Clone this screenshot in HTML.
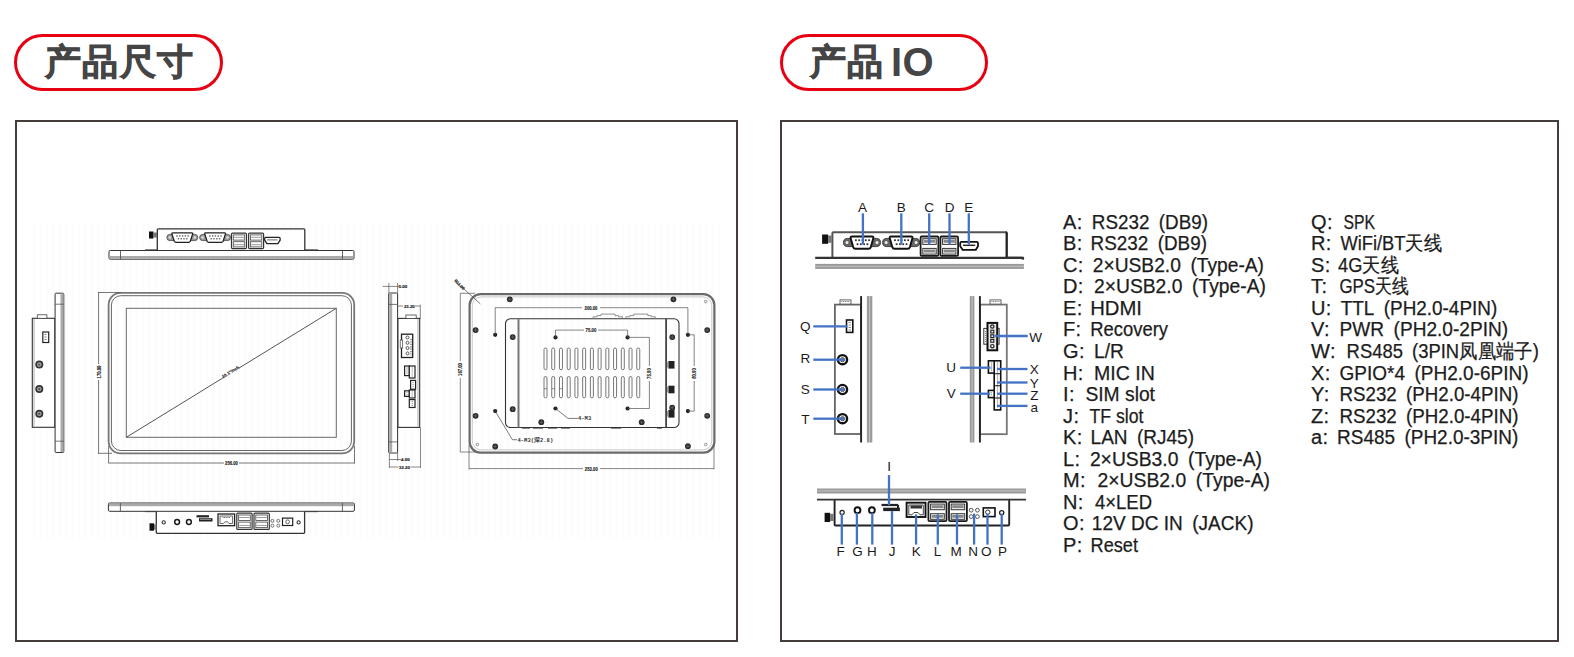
<!DOCTYPE html>
<html><head><meta charset="utf-8">
<style>
html,body{margin:0;padding:0;background:#fff;}
body{width:1574px;height:657px;position:relative;overflow:hidden;font-family:"Liberation Sans",sans-serif;}
.pill{position:absolute;box-sizing:border-box;border:3px solid #e60012;border-radius:30px;}
.ptxt{position:absolute;font-family:"Liberation Sans",sans-serif;font-weight:bold;font-size:35.5px;letter-spacing:1.6px;color:#454545;-webkit-text-stroke:0.8px #454545;white-space:nowrap;line-height:1;}
.box{position:absolute;box-sizing:border-box;border:2px solid #463c3c;}
svg{position:absolute;left:0;top:0;}
</style></head><body>
<div class="pill" style="left:14px;top:34px;width:209px;height:57px"></div>
<div class="ptxt" style="left:44.5px;top:45px">产品尺寸</div>
<div class="pill" style="left:780px;top:34px;width:208px;height:57px"></div>
<div class="ptxt" style="left:809.5px;top:45px">产品</div><div class="ptxt" style="left:891px;top:42px;font-size:40px;-webkit-text-stroke:0px #454545;letter-spacing:0.5px">IO</div>
<div class="box" style="left:15px;top:120px;width:723px;height:522px"></div>
<div class="box" style="left:780px;top:120px;width:779px;height:522px"></div>
<svg width="1574" height="657" viewBox="0 0 1574 657">
<!--GRID--><g stroke="#fcfcfc" stroke-width="2.6"><line x1="34.3" y1="224" x2="34.3" y2="538"/><line x1="40.7" y1="224" x2="40.7" y2="538"/><line x1="47.1" y1="224" x2="47.1" y2="538"/><line x1="53.5" y1="224" x2="53.5" y2="538"/><line x1="59.9" y1="224" x2="59.9" y2="538"/><line x1="66.3" y1="224" x2="66.3" y2="538"/><line x1="72.7" y1="224" x2="72.7" y2="538"/><line x1="79.1" y1="224" x2="79.1" y2="538"/><line x1="85.5" y1="224" x2="85.5" y2="538"/><line x1="91.9" y1="224" x2="91.9" y2="538"/><line x1="98.3" y1="224" x2="98.3" y2="538"/><line x1="104.7" y1="224" x2="104.7" y2="538"/><line x1="111.1" y1="224" x2="111.1" y2="538"/><line x1="117.5" y1="224" x2="117.5" y2="538"/><line x1="123.9" y1="224" x2="123.9" y2="538"/><line x1="130.3" y1="224" x2="130.3" y2="538"/><line x1="136.7" y1="224" x2="136.7" y2="538"/><line x1="143.1" y1="224" x2="143.1" y2="538"/><line x1="149.5" y1="224" x2="149.5" y2="538"/><line x1="155.9" y1="224" x2="155.9" y2="538"/><line x1="162.3" y1="224" x2="162.3" y2="538"/><line x1="168.7" y1="224" x2="168.7" y2="538"/><line x1="175.1" y1="224" x2="175.1" y2="538"/><line x1="181.5" y1="224" x2="181.5" y2="538"/><line x1="187.9" y1="224" x2="187.9" y2="538"/><line x1="194.3" y1="224" x2="194.3" y2="538"/><line x1="200.7" y1="224" x2="200.7" y2="538"/><line x1="207.1" y1="224" x2="207.1" y2="538"/><line x1="213.5" y1="224" x2="213.5" y2="538"/><line x1="219.9" y1="224" x2="219.9" y2="538"/><line x1="226.3" y1="224" x2="226.3" y2="538"/><line x1="232.7" y1="224" x2="232.7" y2="538"/><line x1="239.1" y1="224" x2="239.1" y2="538"/><line x1="245.5" y1="224" x2="245.5" y2="538"/><line x1="251.9" y1="224" x2="251.9" y2="538"/><line x1="258.3" y1="224" x2="258.3" y2="538"/><line x1="264.7" y1="224" x2="264.7" y2="538"/><line x1="271.1" y1="224" x2="271.1" y2="538"/><line x1="277.5" y1="224" x2="277.5" y2="538"/><line x1="283.9" y1="224" x2="283.9" y2="538"/><line x1="290.3" y1="224" x2="290.3" y2="538"/><line x1="296.7" y1="224" x2="296.7" y2="538"/><line x1="303.1" y1="224" x2="303.1" y2="538"/><line x1="309.5" y1="224" x2="309.5" y2="538"/><line x1="315.9" y1="224" x2="315.9" y2="538"/><line x1="322.3" y1="224" x2="322.3" y2="538"/><line x1="328.7" y1="224" x2="328.7" y2="538"/><line x1="335.1" y1="224" x2="335.1" y2="538"/><line x1="341.5" y1="224" x2="341.5" y2="538"/><line x1="347.9" y1="224" x2="347.9" y2="538"/><line x1="354.3" y1="224" x2="354.3" y2="538"/><line x1="360.7" y1="224" x2="360.7" y2="538"/><line x1="367.1" y1="224" x2="367.1" y2="538"/><line x1="373.5" y1="224" x2="373.5" y2="538"/><line x1="379.9" y1="224" x2="379.9" y2="538"/><line x1="386.3" y1="224" x2="386.3" y2="538"/><line x1="392.7" y1="224" x2="392.7" y2="538"/><line x1="399.1" y1="224" x2="399.1" y2="538"/><line x1="405.5" y1="224" x2="405.5" y2="538"/><line x1="411.9" y1="224" x2="411.9" y2="538"/><line x1="418.3" y1="224" x2="418.3" y2="538"/><line x1="424.7" y1="224" x2="424.7" y2="538"/><line x1="431.1" y1="224" x2="431.1" y2="538"/><line x1="437.5" y1="224" x2="437.5" y2="538"/><line x1="443.9" y1="224" x2="443.9" y2="538"/><line x1="450.3" y1="224" x2="450.3" y2="538"/><line x1="456.7" y1="224" x2="456.7" y2="538"/><line x1="463.1" y1="224" x2="463.1" y2="538"/><line x1="469.5" y1="224" x2="469.5" y2="538"/><line x1="475.9" y1="224" x2="475.9" y2="538"/><line x1="482.3" y1="224" x2="482.3" y2="538"/><line x1="488.7" y1="224" x2="488.7" y2="538"/><line x1="495.1" y1="224" x2="495.1" y2="538"/><line x1="501.5" y1="224" x2="501.5" y2="538"/><line x1="507.9" y1="224" x2="507.9" y2="538"/><line x1="514.3" y1="224" x2="514.3" y2="538"/><line x1="520.7" y1="224" x2="520.7" y2="538"/><line x1="527.1" y1="224" x2="527.1" y2="538"/><line x1="533.5" y1="224" x2="533.5" y2="538"/><line x1="539.9" y1="224" x2="539.9" y2="538"/><line x1="546.3" y1="224" x2="546.3" y2="538"/><line x1="552.7" y1="224" x2="552.7" y2="538"/><line x1="559.1" y1="224" x2="559.1" y2="538"/><line x1="565.5" y1="224" x2="565.5" y2="538"/><line x1="571.9" y1="224" x2="571.9" y2="538"/><line x1="578.3" y1="224" x2="578.3" y2="538"/><line x1="584.7" y1="224" x2="584.7" y2="538"/><line x1="591.1" y1="224" x2="591.1" y2="538"/><line x1="597.5" y1="224" x2="597.5" y2="538"/><line x1="603.9" y1="224" x2="603.9" y2="538"/><line x1="610.3" y1="224" x2="610.3" y2="538"/><line x1="616.7" y1="224" x2="616.7" y2="538"/><line x1="623.1" y1="224" x2="623.1" y2="538"/><line x1="629.5" y1="224" x2="629.5" y2="538"/><line x1="635.9" y1="224" x2="635.9" y2="538"/><line x1="642.3" y1="224" x2="642.3" y2="538"/><line x1="648.7" y1="224" x2="648.7" y2="538"/><line x1="655.1" y1="224" x2="655.1" y2="538"/><line x1="661.5" y1="224" x2="661.5" y2="538"/><line x1="667.9" y1="224" x2="667.9" y2="538"/><line x1="674.3" y1="224" x2="674.3" y2="538"/><line x1="680.7" y1="224" x2="680.7" y2="538"/><line x1="687.1" y1="224" x2="687.1" y2="538"/><line x1="693.5" y1="224" x2="693.5" y2="538"/><line x1="699.9" y1="224" x2="699.9" y2="538"/><line x1="706.3" y1="224" x2="706.3" y2="538"/><line x1="712.7" y1="224" x2="712.7" y2="538"/><line x1="719.1" y1="224" x2="719.1" y2="538"/></g>
<g id="ltop"><line x1="145" y1="250" x2="157" y2="250" stroke="#333" stroke-width="1.2"/><line x1="305" y1="250" x2="318" y2="250" stroke="#333" stroke-width="1.2"/><path d="M157.3,250.5 L157.3,229.8 Q157.3,228.8 158.3,228.8 L303.8,228.8 Q304.8,228.8 304.8,229.8 L304.8,250.5" fill="#fff" stroke="#333" stroke-width="1.3"/><rect x="109" y="250.5" width="245" height="8.699999999999989" rx="1.2" fill="#fff" stroke="#333" stroke-width="1"/><rect x="109.5" y="256.0" width="244" height="2.6" fill="#aaa"/><line x1="120.5" y1="250.5" x2="120.5" y2="259.2" stroke="#555" stroke-width="0.9"/><line x1="342.5" y1="250.5" x2="342.5" y2="259.2" stroke="#555" stroke-width="0.9"/><rect x="149" y="231.5" width="4.5" height="7" fill="#111"/><rect x="153.5" y="232.5" width="3.5" height="5" fill="#777"/><rect x="166.8" y="234.4" width="31" height="6.2" rx="3.1" fill="#999" stroke="#444" stroke-width="0.8"/><circle cx="169.8" cy="237.5" r="1.3" fill="#ddd"/><circle cx="194.8" cy="237.5" r="1.3" fill="#ddd"/><path d="M172.8,232.9 L191.8,232.9 Q193.10000000000002,232.9 192.60000000000002,234.1 L190.3,241.3 Q189.8,242.3 188.70000000000002,242.3 L175.9,242.3 Q174.8,242.3 174.3,241.3 L172.0,234.1 Q171.5,232.9 172.8,232.9 Z" fill="#fff" stroke="#222" stroke-width="1.3"/><rect x="176.3" y="235.3" width="1.4" height="1.3" fill="#555"/><rect x="179.1" y="235.3" width="1.4" height="1.3" fill="#555"/><rect x="181.9" y="235.3" width="1.4" height="1.3" fill="#555"/><rect x="184.7" y="235.3" width="1.4" height="1.3" fill="#555"/><rect x="187.5" y="235.3" width="1.4" height="1.3" fill="#555"/><rect x="177.7" y="238.1" width="1.4" height="1.3" fill="#555"/><rect x="180.5" y="238.1" width="1.4" height="1.3" fill="#555"/><rect x="183.3" y="238.1" width="1.4" height="1.3" fill="#555"/><rect x="186.1" y="238.1" width="1.4" height="1.3" fill="#555"/><rect x="199.6" y="234.4" width="31" height="6.2" rx="3.1" fill="#999" stroke="#444" stroke-width="0.8"/><circle cx="202.6" cy="237.5" r="1.3" fill="#ddd"/><circle cx="227.6" cy="237.5" r="1.3" fill="#ddd"/><path d="M205.6,232.9 L224.6,232.9 Q225.9,232.9 225.4,234.1 L223.1,241.3 Q222.6,242.3 221.5,242.3 L208.7,242.3 Q207.6,242.3 207.1,241.3 L204.79999999999998,234.1 Q204.29999999999998,232.9 205.6,232.9 Z" fill="#fff" stroke="#222" stroke-width="1.3"/><rect x="209.1" y="235.3" width="1.4" height="1.3" fill="#555"/><rect x="211.9" y="235.3" width="1.4" height="1.3" fill="#555"/><rect x="214.7" y="235.3" width="1.4" height="1.3" fill="#555"/><rect x="217.5" y="235.3" width="1.4" height="1.3" fill="#555"/><rect x="220.3" y="235.3" width="1.4" height="1.3" fill="#555"/><rect x="210.5" y="238.1" width="1.4" height="1.3" fill="#555"/><rect x="213.3" y="238.1" width="1.4" height="1.3" fill="#555"/><rect x="216.1" y="238.1" width="1.4" height="1.3" fill="#555"/><rect x="218.9" y="238.1" width="1.4" height="1.3" fill="#555"/><rect x="231.5" y="233.1" width="15" height="15.5" rx="1" fill="#fff" stroke="#333" stroke-width="1.2"/><rect x="233.3" y="234.9" width="11.4" height="5.2" fill="#fff" stroke="#555" stroke-width="0.9"/><rect x="233.3" y="241.7" width="11.4" height="5.2" fill="#fff" stroke="#555" stroke-width="0.9"/><line x1="234.0" y1="237.3" x2="244.0" y2="237.3" stroke="#999" stroke-width="1"/><line x1="234.0" y1="244.7" x2="244.0" y2="244.7" stroke="#999" stroke-width="1"/><rect x="248.6" y="233.1" width="15" height="15.5" rx="1" fill="#fff" stroke="#333" stroke-width="1.2"/><rect x="250.4" y="234.9" width="11.4" height="5.2" fill="#fff" stroke="#555" stroke-width="0.9"/><rect x="250.4" y="241.7" width="11.4" height="5.2" fill="#fff" stroke="#555" stroke-width="0.9"/><line x1="251.1" y1="237.3" x2="261.1" y2="237.3" stroke="#999" stroke-width="1"/><line x1="251.1" y1="244.7" x2="261.1" y2="244.7" stroke="#999" stroke-width="1"/><path d="M265.7,237.3 L279.09999999999997,237.3 Q280.09999999999997,237.3 280.09999999999997,238.3 L280.09999999999997,240.2 L277.9,243.70000000000002 L266.9,243.70000000000002 L264.7,240.2 L264.7,238.3 Q264.7,237.3 265.7,237.3 Z" fill="#fff" stroke="#222" stroke-width="1.3"/><line x1="267.2" y1="239.9" x2="277.59999999999997" y2="239.9" stroke="#666" stroke-width="1"/></g>
<g id="lfront"><rect x="108.6" y="292.9" width="245.6" height="160.4" rx="12" fill="none" stroke="#777" stroke-width="1.8"/><rect x="111.4" y="295.7" width="240" height="154.8" rx="9.5" fill="none" stroke="#666" stroke-width="1"/><rect x="126.3" y="308.3" width="210" height="129" fill="none" stroke="#6a6a6a" stroke-width="1"/><line x1="126.3" y1="437.3" x2="336.3" y2="308.3" stroke="#555" stroke-width="1"/><rect x="222" y="369" width="17" height="5" fill="#fff" transform="rotate(-31.6 230.5 371.5)"/><text x="220.82" y="373.31" font-family="Liberation Sans, sans-serif" font-size="4.2" fill="#222" stroke="#222" stroke-width="0.15" textLength="19.35" lengthAdjust="spacingAndGlyphs" transform="rotate(-31.6 230.5 371.8)" font-weight="bold">10.1"inch</text><path d="M97.9,292.5 H121 M98.6,292.5 V453.3 M97.9,453.3 H112" stroke="#555" stroke-width="0.8" fill="none"/><rect x="96" y="364" width="5.5" height="16" fill="#fff"/><text x="92.15" y="373.94" font-family="Liberation Sans, sans-serif" font-size="5.4" fill="#222" stroke="#222" stroke-width="0.15" textLength="12.90" lengthAdjust="spacingAndGlyphs" transform="rotate(-90 98.6 372)" font-weight="bold">170.00</text><path d="M108.6,446 V463.3 M354.5,446 V463.6 M108.6,463 H354.5" stroke="#555" stroke-width="0.8" fill="none"/><rect x="224" y="460" width="15" height="6" fill="#fff"/><text x="225.05" y="465.14" font-family="Liberation Sans, sans-serif" font-size="5.4" fill="#222" stroke="#222" stroke-width="0.15" textLength="12.90" lengthAdjust="spacingAndGlyphs" font-weight="bold">256.00</text></g>
<g id="lside"><rect x="32.3" y="318.3" width="22.5" height="109" fill="#fff" stroke="#333" stroke-width="1.1"/><line x1="34" y1="319" x2="34" y2="427" stroke="#bbb" stroke-width="1.2"/><rect x="37.3" y="314.8" width="9.6" height="3.5" fill="#fff" stroke="#444" stroke-width="0.8"/><rect x="42.8" y="332" width="5.9" height="10.5" fill="#fff" stroke="#222" stroke-width="1.2"/><path d="M44.5,334.5 h2 M44.5,337 h2 M44.5,339.5 h2" stroke="#666" stroke-width="0.8"/><circle cx="39.3" cy="364.6" r="4" fill="#333"/><circle cx="39.3" cy="364.6" r="2.3" fill="#aaa"/><circle cx="39.3" cy="364.6" r="1.2" fill="#555"/><circle cx="39.3" cy="389" r="4" fill="#333"/><circle cx="39.3" cy="389" r="2.3" fill="#aaa"/><circle cx="39.3" cy="389" r="1.2" fill="#555"/><circle cx="39.3" cy="413.7" r="4" fill="#333"/><circle cx="39.3" cy="413.7" r="2.3" fill="#aaa"/><circle cx="39.3" cy="413.7" r="1.2" fill="#555"/><rect x="55.1" y="293.2" width="8.7" height="159.3" rx="1" fill="#fff" stroke="#333" stroke-width="1"/><rect x="60.5" y="293.6" width="3" height="158.5" fill="#aaa"/><path d="M55.1,304.2 H63.8 M55.1,441.2 H63.8" stroke="#555" stroke-width="0.8"/></g>
<g id="rside"><rect x="397.9" y="318.4" width="21.8" height="109" fill="#fff" stroke="#333" stroke-width="1.1"/><line x1="418" y1="319" x2="418" y2="427" stroke="#bbb" stroke-width="1.2"/><rect x="405.9" y="315" width="10.3" height="3.4" fill="#fff" stroke="#444" stroke-width="0.8"/><rect x="401.5" y="334.2" width="11.2" height="23.3" fill="#fff" stroke="#222" stroke-width="1.3"/><rect x="400.2" y="340" width="2.5" height="8" fill="#fff" stroke="#444" stroke-width="0.7"/><circle cx="407.5" cy="337.5" r="1.5" fill="none" stroke="#333" stroke-width="0.8"/><circle cx="407.5" cy="342.8" r="1.5" fill="none" stroke="#333" stroke-width="0.8"/><circle cx="407.5" cy="348.1" r="1.5" fill="none" stroke="#333" stroke-width="0.8"/><circle cx="407.5" cy="353.4" r="1.5" fill="none" stroke="#333" stroke-width="0.8"/><path d="M411,339 v17" stroke="#555" stroke-width="1.2" stroke-dasharray="1.2,1.2"/><rect x="404.6" y="366" width="4.7" height="9.6" fill="#fff" stroke="#222" stroke-width="1.2"/><path d="M407.0,367.5 v6.6" stroke="#666" stroke-width="0.9" stroke-dasharray="1,1"/><rect x="409.3" y="366" width="5.7" height="12" fill="#fff" stroke="#222" stroke-width="1.2"/><path d="M412.2,367.5 v9.0" stroke="#666" stroke-width="0.9" stroke-dasharray="1,1"/><rect x="410.6" y="380.4" width="5" height="8.8" fill="#fff" stroke="#222" stroke-width="1.2"/><path d="M413.1,381.9 v5.8" stroke="#666" stroke-width="0.9" stroke-dasharray="1,1"/><rect x="404.6" y="390.8" width="4.7" height="5.6" fill="#fff" stroke="#222" stroke-width="1.2"/><path d="M407.0,392.3 v2.6" stroke="#666" stroke-width="0.9" stroke-dasharray="1,1"/><rect x="409.3" y="390" width="5.7" height="8" fill="#fff" stroke="#222" stroke-width="1.2"/><path d="M412.2,391.5 v5.0" stroke="#666" stroke-width="0.9" stroke-dasharray="1,1"/><rect x="409.3" y="399.6" width="5.7" height="7.9" fill="#fff" stroke="#222" stroke-width="1.2"/><path d="M412.2,401.1 v4.9" stroke="#666" stroke-width="0.9" stroke-dasharray="1,1"/><rect x="388.7" y="293" width="8.9" height="160" rx="1" fill="#fff" stroke="#333" stroke-width="1"/><rect x="389.2" y="293.5" width="3" height="159" fill="#aaa"/><path d="M388.7,304.4 H397.6 M388.7,441.9 H397.6" stroke="#555" stroke-width="0.8"/><path d="M382.5,286.4 H399 M388.9,283 V293 M397.6,283 V293" stroke="#555" stroke-width="0.7" fill="none"/><text x="398.70" y="287.98" font-family="Liberation Sans, sans-serif" font-size="4.4" fill="#222" stroke="#222" stroke-width="0.15" textLength="8.60" lengthAdjust="spacingAndGlyphs" font-weight="bold">5.00</text><path d="M397.6,306 H420.3 M420.3,304.7 V319" stroke="#555" stroke-width="0.7" fill="none"/><rect x="403" y="303.5" width="12" height="5" fill="#fff"/><text x="403.93" y="307.58" font-family="Liberation Sans, sans-serif" font-size="4.4" fill="#222" stroke="#222" stroke-width="0.15" textLength="10.75" lengthAdjust="spacingAndGlyphs" font-weight="bold">23.20</text><path d="M389.4,453 V468 M397.6,453 V461 M420.5,427.5 V468 M389.4,459.5 H401 M389.4,467 H420.5" stroke="#555" stroke-width="0.7" fill="none"/><text x="401.10" y="461.08" font-family="Liberation Sans, sans-serif" font-size="4.4" fill="#222" stroke="#222" stroke-width="0.15" textLength="8.60" lengthAdjust="spacingAndGlyphs" font-weight="bold">4.00</text><rect x="398.5" y="464.5" width="12" height="5" fill="#fff"/><text x="399.12" y="468.58" font-family="Liberation Sans, sans-serif" font-size="4.4" fill="#222" stroke="#222" stroke-width="0.15" textLength="10.75" lengthAdjust="spacingAndGlyphs" font-weight="bold">32.20</text></g>
<g id="back"><rect x="469.6" y="294.2" width="244.8" height="158.4" rx="11" fill="none" stroke="#6a6a6a" stroke-width="2.2"/><rect x="472.3" y="296.9" width="239.5" height="153" rx="9" fill="none" stroke="#bbb" stroke-width="0.8"/><rect x="505.5" y="318.7" width="173.5" height="108.8" rx="5" fill="none" stroke="#333" stroke-width="1.1"/><line x1="518.5" y1="318.7" x2="518.5" y2="427.5" stroke="#777" stroke-width="2"/><line x1="666.1" y1="318.7" x2="666.1" y2="427.5" stroke="#444" stroke-width="1.8"/><path d="M593,319 v-2.2 h4 v-1.2 h4 v-1.5 h14 v1.5 h3.5 v1.2 h4 v2.2" fill="none" stroke="#777" stroke-width="0.8"/><path d="M625.8,319 v-2.2 h4 v-1.2 h4 v-1.5 h14 v1.5 h3.5 v1.2 h4 v2.2" fill="none" stroke="#777" stroke-width="0.8"/><path d="M522,428.5 h8 M533,428.5 h10 M548,428.5 h9 M561,428.5 h9 M611,428.5 h10 M657,428.5 h5" stroke="#888" stroke-width="1"/><rect x="544.00" y="348" width="3" height="21.7" rx="1.5" fill="none" stroke="#555" stroke-width="0.8"/><rect x="551.73" y="348" width="3" height="21.7" rx="1.5" fill="none" stroke="#555" stroke-width="0.8"/><rect x="559.46" y="348" width="3" height="21.7" rx="1.5" fill="none" stroke="#555" stroke-width="0.8"/><rect x="567.19" y="348" width="3" height="21.7" rx="1.5" fill="none" stroke="#555" stroke-width="0.8"/><rect x="574.92" y="348" width="3" height="21.7" rx="1.5" fill="none" stroke="#555" stroke-width="0.8"/><rect x="582.65" y="348" width="3" height="21.7" rx="1.5" fill="none" stroke="#555" stroke-width="0.8"/><rect x="590.38" y="348" width="3" height="21.7" rx="1.5" fill="none" stroke="#555" stroke-width="0.8"/><rect x="598.11" y="348" width="3" height="21.7" rx="1.5" fill="none" stroke="#555" stroke-width="0.8"/><rect x="605.84" y="348" width="3" height="21.7" rx="1.5" fill="none" stroke="#555" stroke-width="0.8"/><rect x="613.57" y="348" width="3" height="21.7" rx="1.5" fill="none" stroke="#555" stroke-width="0.8"/><rect x="621.30" y="348" width="3" height="21.7" rx="1.5" fill="none" stroke="#555" stroke-width="0.8"/><rect x="629.03" y="348" width="3" height="21.7" rx="1.5" fill="none" stroke="#555" stroke-width="0.8"/><rect x="636.76" y="348" width="3" height="21.7" rx="1.5" fill="none" stroke="#555" stroke-width="0.8"/><rect x="544.00" y="376.5" width="3" height="21.3" rx="1.5" fill="none" stroke="#555" stroke-width="0.8"/><rect x="551.73" y="376.5" width="3" height="21.3" rx="1.5" fill="none" stroke="#555" stroke-width="0.8"/><rect x="559.46" y="376.5" width="3" height="21.3" rx="1.5" fill="none" stroke="#555" stroke-width="0.8"/><rect x="567.19" y="376.5" width="3" height="21.3" rx="1.5" fill="none" stroke="#555" stroke-width="0.8"/><rect x="574.92" y="376.5" width="3" height="21.3" rx="1.5" fill="none" stroke="#555" stroke-width="0.8"/><rect x="582.65" y="376.5" width="3" height="21.3" rx="1.5" fill="none" stroke="#555" stroke-width="0.8"/><rect x="590.38" y="376.5" width="3" height="21.3" rx="1.5" fill="none" stroke="#555" stroke-width="0.8"/><rect x="598.11" y="376.5" width="3" height="21.3" rx="1.5" fill="none" stroke="#555" stroke-width="0.8"/><rect x="605.84" y="376.5" width="3" height="21.3" rx="1.5" fill="none" stroke="#555" stroke-width="0.8"/><rect x="613.57" y="376.5" width="3" height="21.3" rx="1.5" fill="none" stroke="#555" stroke-width="0.8"/><rect x="621.30" y="376.5" width="3" height="21.3" rx="1.5" fill="none" stroke="#555" stroke-width="0.8"/><rect x="629.03" y="376.5" width="3" height="21.3" rx="1.5" fill="none" stroke="#555" stroke-width="0.8"/><rect x="636.76" y="376.5" width="3" height="21.3" rx="1.5" fill="none" stroke="#555" stroke-width="0.8"/><line x1="544.00" y1="388.7" x2="547.00" y2="388.7" stroke="#555" stroke-width="0.6"/><line x1="551.73" y1="388.7" x2="554.73" y2="388.7" stroke="#555" stroke-width="0.6"/><line x1="559.46" y1="388.7" x2="562.46" y2="388.7" stroke="#555" stroke-width="0.6"/><rect x="668.4" y="361" width="6.1" height="7.6" fill="#222"/><rect x="667.2" y="362" width="1.2" height="5.6" fill="#888"/><rect x="668.4" y="385.7" width="6.1" height="7.6" fill="#222"/><rect x="667.2" y="386.7" width="1.2" height="5.6" fill="#888"/><rect x="668.4" y="410" width="6.1" height="7.6" fill="#222"/><rect x="667.2" y="411" width="1.2" height="5.6" fill="#888"/><circle cx="509.8" cy="299.3" r="2.9" fill="#2a2a2a"/><path d="M507.77000000000004,299.3 H511.83 M509.8,297.27000000000004 V301.33" stroke="#8a8a8a" stroke-width="0.45"/><circle cx="673.4" cy="299.3" r="2.9" fill="#2a2a2a"/><path d="M671.37,299.3 H675.43 M673.4,297.27000000000004 V301.33" stroke="#8a8a8a" stroke-width="0.45"/><circle cx="475.6" cy="330.1" r="2.9" fill="#2a2a2a"/><path d="M473.57000000000005,330.1 H477.63 M475.6,328.07000000000005 V332.13" stroke="#8a8a8a" stroke-width="0.45"/><circle cx="707.2" cy="330.1" r="2.9" fill="#2a2a2a"/><path d="M705.1700000000001,330.1 H709.23 M707.2,328.07000000000005 V332.13" stroke="#8a8a8a" stroke-width="0.45"/><circle cx="512.7" cy="337.1" r="2.9" fill="#2a2a2a"/><path d="M510.6700000000001,337.1 H514.73 M512.7,335.07000000000005 V339.13" stroke="#8a8a8a" stroke-width="0.45"/><circle cx="672.2" cy="337.1" r="2.9" fill="#2a2a2a"/><path d="M670.1700000000001,337.1 H674.23 M672.2,335.07000000000005 V339.13" stroke="#8a8a8a" stroke-width="0.45"/><circle cx="475.6" cy="415.8" r="2.9" fill="#2a2a2a"/><path d="M473.57000000000005,415.8 H477.63 M475.6,413.77000000000004 V417.83" stroke="#8a8a8a" stroke-width="0.45"/><circle cx="707.2" cy="415.8" r="2.9" fill="#2a2a2a"/><path d="M705.1700000000001,415.8 H709.23 M707.2,413.77000000000004 V417.83" stroke="#8a8a8a" stroke-width="0.45"/><circle cx="512.7" cy="409.2" r="2.9" fill="#2a2a2a"/><path d="M510.6700000000001,409.2 H514.73 M512.7,407.17 V411.22999999999996" stroke="#8a8a8a" stroke-width="0.45"/><circle cx="672.2" cy="407.7" r="2.9" fill="#2a2a2a"/><path d="M670.1700000000001,407.7 H674.23 M672.2,405.67 V409.72999999999996" stroke="#8a8a8a" stroke-width="0.45"/><circle cx="541.3" cy="422.2" r="2.9" fill="#2a2a2a"/><path d="M539.27,422.2 H543.3299999999999 M541.3,420.17 V424.22999999999996" stroke="#8a8a8a" stroke-width="0.45"/><circle cx="641.7" cy="422.2" r="2.9" fill="#2a2a2a"/><path d="M639.6700000000001,422.2 H643.73 M641.7,420.17 V424.22999999999996" stroke="#8a8a8a" stroke-width="0.45"/><circle cx="495.2" cy="446.5" r="2.9" fill="#2a2a2a"/><path d="M493.17,446.5 H497.22999999999996 M495.2,444.47 V448.53" stroke="#8a8a8a" stroke-width="0.45"/><circle cx="687.9" cy="446.2" r="2.9" fill="#2a2a2a"/><path d="M685.87,446.2 H689.93 M687.9,444.17 V448.22999999999996" stroke="#8a8a8a" stroke-width="0.45"/><circle cx="705.7" cy="301.6" r="1.3" fill="none" stroke="#555" stroke-width="0.6"/><circle cx="477.4" cy="444.5" r="1.3" fill="none" stroke="#555" stroke-width="0.6"/><circle cx="705.7" cy="444.5" r="1.3" fill="none" stroke="#555" stroke-width="0.6"/><circle cx="495.2" cy="334.8" r="2.1" fill="#222"/><circle cx="687.9" cy="334.8" r="2.1" fill="#222"/><circle cx="495.2" cy="411.1" r="2.1" fill="#222"/><circle cx="687.9" cy="411.1" r="2.1" fill="#222"/><circle cx="555.5" cy="337.4" r="2.1" fill="#222"/><circle cx="627.6" cy="337.4" r="2.1" fill="#222"/><circle cx="555.5" cy="408.5" r="2.1" fill="#222"/><circle cx="627.6" cy="408.5" r="2.1" fill="#222"/><path d="M495.2,334.8 V307.7 H687.9 V334.8" fill="none" stroke="#555" stroke-width="0.7"/><rect x="582" y="305" width="18" height="5.5" fill="#fff"/><text x="584.55" y="309.74" font-family="Liberation Sans, sans-serif" font-size="5.4" fill="#222" stroke="#222" stroke-width="0.15" textLength="12.90" lengthAdjust="spacingAndGlyphs" font-weight="bold">200.00</text><path d="M555.5,337.4 V330.1 H627.6 V337.4" fill="none" stroke="#555" stroke-width="0.7"/><rect x="584" y="327.5" width="14" height="5.5" fill="#fff"/><text x="585.62" y="332.14" font-family="Liberation Sans, sans-serif" font-size="5.4" fill="#222" stroke="#222" stroke-width="0.15" textLength="10.75" lengthAdjust="spacingAndGlyphs" font-weight="bold">75.00</text><path d="M627.6,337.4 H649.4 V408.5 H627.6" fill="none" stroke="#555" stroke-width="0.7"/><rect x="646.6" y="366" width="5.5" height="15" fill="#fff"/><text x="644.02" y="375.44" font-family="Liberation Sans, sans-serif" font-size="5.4" fill="#222" stroke="#222" stroke-width="0.15" textLength="10.75" lengthAdjust="spacingAndGlyphs" transform="rotate(-90 649.4 373.5)" font-weight="bold">75.00</text><path d="M687.9,334.8 H694.2 V411.1 H687.9" fill="none" stroke="#555" stroke-width="0.7"/><rect x="691.5" y="366" width="5.5" height="15" fill="#fff"/><text x="688.83" y="375.44" font-family="Liberation Sans, sans-serif" font-size="5.4" fill="#222" stroke="#222" stroke-width="0.15" textLength="10.75" lengthAdjust="spacingAndGlyphs" transform="rotate(-90 694.2 373.5)" font-weight="bold">80.00</text><path d="M460.3,293.3 H475 M460.3,293.3 V452 M460.3,452 H475" fill="none" stroke="#555" stroke-width="0.7"/><rect x="457.5" y="361" width="5.5" height="17" fill="#fff"/><text x="453.85" y="371.44" font-family="Liberation Sans, sans-serif" font-size="5.4" fill="#222" stroke="#222" stroke-width="0.15" textLength="12.90" lengthAdjust="spacingAndGlyphs" transform="rotate(-90 460.3 369.5)" font-weight="bold">167.00</text><path d="M469,445 V469.4 M714,445 V469.4 M469,468.6 H714" fill="none" stroke="#555" stroke-width="0.7"/><rect x="583" y="466" width="17" height="5.5" fill="#fff"/><text x="584.85" y="470.54" font-family="Liberation Sans, sans-serif" font-size="5.4" fill="#222" stroke="#222" stroke-width="0.15" textLength="12.90" lengthAdjust="spacingAndGlyphs" font-weight="bold">253.00</text><path d="M455.3,281.1 L480.4,303.9" stroke="#444" stroke-width="0.7"/><text x="453.05" y="286.01" font-family="Liberation Sans, sans-serif" font-size="4.2" fill="#222" stroke="#222" stroke-width="0.15" textLength="12.90" lengthAdjust="spacingAndGlyphs" transform="rotate(45 459.5 284.5)" font-weight="bold">R11.00</text><path d="M495.2,411.1 L512.4,439.7 H517" fill="none" stroke="#444" stroke-width="0.7"/><text x="517.5" y="441.6" font-family="Liberation Mono, monospace" font-size="5.5" fill="#333" font-weight="bold">4-M3(深2.8)</text><path d="M555.5,408.5 L568,418.4 H577.8" fill="none" stroke="#444" stroke-width="0.7"/><text x="578" y="420.3" font-family="Liberation Mono, monospace" font-size="5.5" fill="#333" font-weight="bold">4-M3</text></g>
<g id="lbottom"><path d="M156.3,511.3 V532.6 Q156.3,533.4 157.3,533.4 H303.6 Q304.6,533.4 304.6,532.6 V511.3" fill="#fff" stroke="#333" stroke-width="1.3"/><line x1="145" y1="511.6" x2="157" y2="511.6" stroke="#555" stroke-width="1.1"/><line x1="305" y1="511.6" x2="318" y2="511.6" stroke="#555" stroke-width="1.1"/><rect x="108.4" y="503" width="245.99999999999997" height="8.300000000000011" rx="1.2" fill="#fff" stroke="#333" stroke-width="1"/><rect x="108.9" y="503.6" width="244.99999999999997" height="2.6" fill="#aaa"/><line x1="120.4" y1="503" x2="120.4" y2="511.3" stroke="#555" stroke-width="0.9"/><line x1="342.4" y1="503" x2="342.4" y2="511.3" stroke="#555" stroke-width="0.9"/><rect x="149.5" y="523.3" width="4.5" height="7.4" fill="#111"/><rect x="154" y="524.3" width="2.5" height="5.4" fill="#777"/><circle cx="163.7" cy="522.4" r="1.6" fill="none" stroke="#333" stroke-width="1.1"/><circle cx="177.1" cy="522" r="2.4" fill="none" stroke="#1a1a1a" stroke-width="1.5"/><circle cx="188.9" cy="522" r="2.4" fill="none" stroke="#1a1a1a" stroke-width="1.5"/><rect x="196.5" y="515.2" width="12.5" height="2.2" fill="#222"/><rect x="199" y="518.2" width="13.5" height="3.3" fill="#222"/><rect x="200" y="518.8" width="11" height="1.2" fill="#888"/><rect x="218" y="514" width="16.6" height="11.7" fill="#fff" stroke="#222" stroke-width="1.3"/><path d="M220,516 H232.6 V523.5 H229 L227.5,521.8 H225 L223.5,523.5 H220 Z" fill="none" stroke="#444" stroke-width="0.8"/><path d="M222.5,517.5 h8" stroke="#666" stroke-width="1" stroke-dasharray="1,0.6"/><rect x="236.8" y="513.2" width="15.3" height="16.2" rx="1" fill="#fff" stroke="#333" stroke-width="1.2"/><rect x="238.60000000000002" y="515.0" width="11.700000000000001" height="5.5" fill="#fff" stroke="#555" stroke-width="0.9"/><rect x="238.60000000000002" y="522.1" width="11.700000000000001" height="5.5" fill="#fff" stroke="#555" stroke-width="0.9"/><line x1="239.3" y1="517.5" x2="249.60000000000002" y2="517.5" stroke="#999" stroke-width="1"/><line x1="239.3" y1="525.4" x2="249.60000000000002" y2="525.4" stroke="#999" stroke-width="1"/><rect x="254" y="513.2" width="15.3" height="16.2" rx="1" fill="#fff" stroke="#333" stroke-width="1.2"/><rect x="255.8" y="515.0" width="11.700000000000001" height="5.5" fill="#fff" stroke="#555" stroke-width="0.9"/><rect x="255.8" y="522.1" width="11.700000000000001" height="5.5" fill="#fff" stroke="#555" stroke-width="0.9"/><line x1="256.5" y1="517.5" x2="266.8" y2="517.5" stroke="#999" stroke-width="1"/><line x1="256.5" y1="525.4" x2="266.8" y2="525.4" stroke="#999" stroke-width="1"/><circle cx="272.4" cy="520.9" r="1.5" fill="none" stroke="#555" stroke-width="0.8"/><circle cx="278.3" cy="520.9" r="1.5" fill="none" stroke="#555" stroke-width="0.8"/><circle cx="272.4" cy="525.7" r="1.5" fill="none" stroke="#555" stroke-width="0.8"/><circle cx="278.3" cy="525.7" r="1.5" fill="none" stroke="#555" stroke-width="0.8"/><rect x="282.5" y="518.1" width="10.2" height="7.4" fill="#fff" stroke="#222" stroke-width="1.2"/><circle cx="287.6" cy="521.8" r="1.9" fill="none" stroke="#444" stroke-width="0.8"/><circle cx="298.6" cy="522.4" r="1.6" fill="none" stroke="#333" stroke-width="1.1"/></g>
<g id="rtop"><rect x="815.2" y="263.9" width="208.7" height="5" fill="#9a9a9a"/><line x1="815.2" y1="266.3" x2="1023.9" y2="266.3" stroke="#cfcfcf" stroke-width="0.8"/><path d="M832.4,258 V233 Q832.4,232.3 833.4,232.3 H1005.7 Q1006.7,232.3 1006.7,233.3 V258" fill="#fff" stroke="#555" stroke-width="2"/><path d="M1005.7,232.3 Q1006.7,232.3 1006.7,233.3 V258" fill="none" stroke="#222" stroke-width="2"/><path d="M1006.7,257.9 H1021.5 L1023.9,259" stroke="#222" stroke-width="2.2" fill="none"/><path d="M815.2,257.9 H1023.9" stroke="#333" stroke-width="2.2"/><rect x="822.1" y="234.5" width="6" height="9.3" fill="#111"/><rect x="828.1" y="235.5" width="3.5" height="7.3" fill="#777"/><rect x="843.5" y="238.4" width="37" height="8.2" rx="4.1" fill="#666" stroke="#222" stroke-width="0.8"/><circle cx="847" cy="242.5" r="1.5" fill="#eee"/><circle cx="877" cy="242.5" r="1.5" fill="#eee"/><path d="M852,236.5 L872,236.5 Q873.8,236.5 873.3,238.2 L870.8,247.1 Q870.2,248.8 868.6,248.8 L855.4,248.8 Q853.8,248.8 853.2,247.1 L850.7,238.2 Q850.2,236.5 852,236.5 Z" fill="#fff" stroke="#111" stroke-width="1.9"/><rect x="855.0" y="239.3" width="1.8" height="1.8" fill="#333"/><rect x="858.3" y="239.3" width="1.8" height="1.8" fill="#333"/><rect x="861.6" y="239.3" width="1.8" height="1.8" fill="#333"/><rect x="864.9" y="239.3" width="1.8" height="1.8" fill="#333"/><rect x="868.2" y="239.3" width="1.8" height="1.8" fill="#333"/><rect x="856.6" y="243.3" width="1.8" height="1.8" fill="#333"/><rect x="859.9" y="243.3" width="1.8" height="1.8" fill="#333"/><rect x="863.2" y="243.3" width="1.8" height="1.8" fill="#333"/><rect x="866.5" y="243.3" width="1.8" height="1.8" fill="#333"/><rect x="882.6" y="238.4" width="37" height="8.2" rx="4.1" fill="#666" stroke="#222" stroke-width="0.8"/><circle cx="886.1" cy="242.5" r="1.5" fill="#eee"/><circle cx="916.1" cy="242.5" r="1.5" fill="#eee"/><path d="M891.1,236.5 L911.1,236.5 Q912.9,236.5 912.4,238.2 L909.9,247.1 Q909.3000000000001,248.8 907.7,248.8 L894.5,248.8 Q892.9,248.8 892.3000000000001,247.1 L889.8000000000001,238.2 Q889.3000000000001,236.5 891.1,236.5 Z" fill="#fff" stroke="#111" stroke-width="1.9"/><rect x="894.1" y="239.3" width="1.8" height="1.8" fill="#333"/><rect x="897.4" y="239.3" width="1.8" height="1.8" fill="#333"/><rect x="900.7" y="239.3" width="1.8" height="1.8" fill="#333"/><rect x="904.0" y="239.3" width="1.8" height="1.8" fill="#333"/><rect x="907.3" y="239.3" width="1.8" height="1.8" fill="#333"/><rect x="895.7" y="243.3" width="1.8" height="1.8" fill="#333"/><rect x="899.0" y="243.3" width="1.8" height="1.8" fill="#333"/><rect x="902.3" y="243.3" width="1.8" height="1.8" fill="#333"/><rect x="905.6" y="243.3" width="1.8" height="1.8" fill="#333"/><rect x="920.6" y="236.5" width="17.8" height="19.4" rx="1.2" fill="#fff" stroke="#1a1a1a" stroke-width="1.8"/><rect x="922.8000000000001" y="238.7" width="13.4" height="5.7" fill="#fff" stroke="#333" stroke-width="1"/><rect x="923.8000000000001" y="239.8" width="11.4" height="3" fill="#888"/><rect x="922.8000000000001" y="248.4" width="13.4" height="5.7" fill="#fff" stroke="#333" stroke-width="1"/><rect x="923.8000000000001" y="249.5" width="11.4" height="3" fill="#888"/><rect x="940.4" y="236.5" width="17.7" height="19.4" rx="1.2" fill="#fff" stroke="#1a1a1a" stroke-width="1.8"/><rect x="942.6" y="238.7" width="13.3" height="5.7" fill="#fff" stroke="#333" stroke-width="1"/><rect x="943.6" y="239.8" width="11.3" height="3" fill="#888"/><rect x="942.6" y="248.4" width="13.3" height="5.7" fill="#fff" stroke="#333" stroke-width="1"/><rect x="943.6" y="249.5" width="11.3" height="3" fill="#888"/><path d="M961.5,241.8 H976.6 Q978,241.8 978,243.2 V246.2 L975.8,249.8 H962.7 L960.2,246.2 V243.2 Q960.2,241.8 961.5,241.8 Z" fill="#fff" stroke="#111" stroke-width="1.8"/><line x1="963" y1="245.3" x2="975.2" y2="245.3" stroke="#222" stroke-width="1.4"/><text x="862.6" y="211.8" font-family="Liberation Sans, sans-serif" font-size="13.5" fill="#1a1a1a" text-anchor="middle">A</text><text x="901.3" y="211.8" font-family="Liberation Sans, sans-serif" font-size="13.5" fill="#1a1a1a" text-anchor="middle">B</text><text x="929.2" y="211.8" font-family="Liberation Sans, sans-serif" font-size="13.5" fill="#1a1a1a" text-anchor="middle">C</text><text x="949.5" y="211.8" font-family="Liberation Sans, sans-serif" font-size="13.5" fill="#1a1a1a" text-anchor="middle">D</text><text x="968.8" y="211.8" font-family="Liberation Sans, sans-serif" font-size="13.5" fill="#1a1a1a" text-anchor="middle">E</text><line x1="862.9" y1="213.3" x2="862.9" y2="244.6" stroke="#4472c4" stroke-width="2.3"/><line x1="901.3" y1="213.3" x2="901.3" y2="244.6" stroke="#4472c4" stroke-width="2.3"/><line x1="929.2" y1="213.3" x2="929.2" y2="244.6" stroke="#4472c4" stroke-width="2.3"/><line x1="949.5" y1="213.3" x2="949.5" y2="244.6" stroke="#4472c4" stroke-width="2.3"/><line x1="968.8" y1="213.3" x2="968.8" y2="244.6" stroke="#4472c4" stroke-width="2.3"/></g>
<g id="rls"><rect x="866.9" y="296.1" width="5.4" height="146.4" fill="#9a9a9a"/><line x1="869.6" y1="296.1" x2="869.6" y2="442.5" stroke="#d0d0d0" stroke-width="0.8"/><rect x="834.9" y="304.6" width="26" height="129.4" fill="#fff" stroke="#666" stroke-width="1.8"/><line x1="861.1" y1="296.1" x2="861.1" y2="442.5" stroke="#222" stroke-width="1.9"/><rect x="840" y="299.9" width="11" height="4.2" fill="#fff" stroke="#555" stroke-width="0.9"/><path d="M841.5,301.5 h8" stroke="#777" stroke-width="1" stroke-dasharray="1,0.7"/><rect x="846.5" y="320" width="6.3" height="12.4" fill="#fff" stroke="#111" stroke-width="1.6"/><path d="M848.5,322.5 h2.5 M848.5,325 h2.5 M848.5,327.5 h2.5 M848.5,330 h2.5" stroke="#777" stroke-width="0.8"/><circle cx="842.5" cy="359.7" r="4.6" fill="#fff" stroke="#111" stroke-width="2.4"/><circle cx="842.5" cy="359.7" r="2.1" fill="#aaa" stroke="#444" stroke-width="0.9"/><circle cx="842.5" cy="389.5" r="4.6" fill="#fff" stroke="#111" stroke-width="2.4"/><circle cx="842.5" cy="389.5" r="2.1" fill="#aaa" stroke="#444" stroke-width="0.9"/><circle cx="842.5" cy="418.7" r="4.6" fill="#fff" stroke="#111" stroke-width="2.4"/><circle cx="842.5" cy="418.7" r="2.1" fill="#aaa" stroke="#444" stroke-width="0.9"/><path d="M837,434.2 h20" stroke="#777" stroke-width="1"/><text x="805.3" y="331.4" font-family="Liberation Sans, sans-serif" font-size="13.5" fill="#1a1a1a" text-anchor="middle">Q</text><text x="805.3" y="362.5" font-family="Liberation Sans, sans-serif" font-size="13.5" fill="#1a1a1a" text-anchor="middle">R</text><text x="805.3" y="393.8" font-family="Liberation Sans, sans-serif" font-size="13.5" fill="#1a1a1a" text-anchor="middle">S</text><text x="805.3" y="423.6" font-family="Liberation Sans, sans-serif" font-size="13.5" fill="#1a1a1a" text-anchor="middle">T</text><line x1="813.3" y1="326.3" x2="847.4" y2="326.3" stroke="#4472c4" stroke-width="2.3"/><line x1="813.3" y1="359.7" x2="844.3" y2="359.7" stroke="#4472c4" stroke-width="2.3"/><line x1="813.3" y1="389.5" x2="844.3" y2="389.5" stroke="#4472c4" stroke-width="2.3"/><line x1="813.3" y1="418.7" x2="844.3" y2="418.7" stroke="#4472c4" stroke-width="2.3"/></g>
<g id="rrs"><rect x="969.8" y="296.1" width="4.6" height="146.4" fill="#9a9a9a"/><line x1="972.1" y1="296.1" x2="972.1" y2="442.5" stroke="#d0d0d0" stroke-width="0.8"/><rect x="980" y="304.6" width="26.8" height="129.6" fill="#fff" stroke="#777" stroke-width="1.8"/><line x1="979.9" y1="296.1" x2="979.9" y2="442.5" stroke="#222" stroke-width="1.9"/><rect x="990" y="299.9" width="11" height="4.2" fill="#fff" stroke="#555" stroke-width="0.9"/><path d="M991.5,301.5 h8" stroke="#777" stroke-width="1" stroke-dasharray="1,0.7"/><rect x="983.8" y="328.4" width="15.3" height="15.8" fill="#fff" stroke="#333" stroke-width="1"/><rect x="987.5" y="322.9" width="9.7" height="27.4" fill="#e8e8e8" stroke="#111" stroke-width="2"/><circle cx="992.3" cy="326.5" r="1.7" fill="none" stroke="#222" stroke-width="1.2"/><rect x="990.8" y="330.20000000000005" width="3" height="2.8" fill="none" stroke="#222" stroke-width="1.1"/><rect x="990.8" y="334.8" width="3" height="2.8" fill="none" stroke="#222" stroke-width="1.1"/><rect x="990.8" y="339.40000000000003" width="3" height="2.8" fill="none" stroke="#222" stroke-width="1.1"/><circle cx="992.3" cy="346.2" r="1.7" fill="none" stroke="#222" stroke-width="1.2"/><path d="M985.5,331 v11" stroke="#888" stroke-width="1" stroke-dasharray="1,1"/><rect x="988.4" y="360.8" width="6.5" height="12.3" fill="#fff" stroke="#111" stroke-width="1.6"/><path d="M991.6,362.6 v8.7" stroke="#777" stroke-width="1.2" stroke-dasharray="1,1"/><rect x="994.2" y="360.8" width="6.5" height="49.1" fill="#fff" stroke="#111" stroke-width="1.6"/><path d="M997.5,362.6 v45.5" stroke="#777" stroke-width="1.2" stroke-dasharray="1,1"/><rect x="988.4" y="390.4" width="5.8" height="7.2" fill="#fff" stroke="#111" stroke-width="1.6"/><path d="M991.3,392.2 v3.6" stroke="#777" stroke-width="1.2" stroke-dasharray="1,1"/><path d="M994.2,373.8 h6.5 M994.2,385.8 h6.5 M994.2,398 h6.5" stroke="#111" stroke-width="1.1"/><path d="M983,434.2 h20" stroke="#777" stroke-width="1"/><text x="1035.5" y="341.8" font-family="Liberation Sans, sans-serif" font-size="13.5" fill="#1a1a1a" text-anchor="middle">W</text><line x1="994.8" y1="336" x2="1027.7" y2="336" stroke="#4472c4" stroke-width="2.3"/><text x="951.2" y="372.3" font-family="Liberation Sans, sans-serif" font-size="13.5" fill="#1a1a1a" text-anchor="middle">U</text><line x1="960.2" y1="367.7" x2="990.6" y2="367.7" stroke="#4472c4" stroke-width="2.3"/><text x="951.2" y="398.4" font-family="Liberation Sans, sans-serif" font-size="13.5" fill="#1a1a1a" text-anchor="middle">V</text><line x1="960.2" y1="393.7" x2="989.9" y2="393.7" stroke="#4472c4" stroke-width="2.3"/><text x="1034.3" y="373.8" font-family="Liberation Sans, sans-serif" font-size="13.5" fill="#1a1a1a" text-anchor="middle">X</text><line x1="997.1" y1="369" x2="1027.5" y2="369" stroke="#4472c4" stroke-width="2.3"/><text x="1034.3" y="387.5" font-family="Liberation Sans, sans-serif" font-size="13.5" fill="#1a1a1a" text-anchor="middle">Y</text><line x1="997.1" y1="382.5" x2="1027.5" y2="382.5" stroke="#4472c4" stroke-width="2.3"/><text x="1034.3" y="399.8" font-family="Liberation Sans, sans-serif" font-size="13.5" fill="#1a1a1a" text-anchor="middle">Z</text><line x1="997.1" y1="393.7" x2="1027.5" y2="393.7" stroke="#4472c4" stroke-width="2.3"/><text x="1034.3" y="412" font-family="Liberation Sans, sans-serif" font-size="13.5" fill="#1a1a1a" text-anchor="middle">a</text><line x1="997.1" y1="405.9" x2="1027.5" y2="405.9" stroke="#4472c4" stroke-width="2.3"/></g>
<g id="rbot"><rect x="817" y="488.5" width="209" height="5" fill="#9a9a9a"/><line x1="817" y1="490.9" x2="1026" y2="490.9" stroke="#cfcfcf" stroke-width="0.8"/><path d="M834.6,499.7 V524.6 Q834.6,525.5 835.6,525.5 H1008.2 Q1009.2,525.5 1009.2,524.6 V499.7" fill="#fff" stroke="#222" stroke-width="1.9"/><path d="M817,499.6 H1026" stroke="#333" stroke-width="1.9"/><rect x="824.6" y="512.8" width="5.5" height="9.2" fill="#111"/><rect x="830.1" y="513.8" width="3.5" height="7.2" fill="#777"/><circle cx="842.1" cy="512.4" r="2.1" fill="none" stroke="#222" stroke-width="1.2"/><circle cx="857.5" cy="510.2" r="2.9" fill="none" stroke="#111" stroke-width="1.9"/><circle cx="871.9" cy="510.2" r="2.9" fill="none" stroke="#111" stroke-width="1.9"/><rect x="881.5" y="503.9" width="16.7" height="2.2" fill="#222"/><rect x="883.2" y="507.7" width="16.7" height="3.4" fill="#222"/><rect x="897" y="505" width="2" height="3" fill="#222"/><rect x="906.6" y="502.7" width="18.9" height="14.3" fill="#fff" stroke="#111" stroke-width="1.9"/><path d="M908.8,505 H923.3 V514.8 H920 L918,512.5 H914 L912,514.8 H908.8 Z" fill="none" stroke="#444" stroke-width="1"/><rect x="910.5" y="505.5" width="11.5" height="3" fill="#333"/><rect x="928.4" y="501.9" width="18.1" height="19.2" rx="1.2" fill="#fff" stroke="#1a1a1a" stroke-width="1.8"/><rect x="930.6" y="504.1" width="13.7" height="5.6" fill="#fff" stroke="#333" stroke-width="1"/><rect x="931.6" y="505.2" width="11.7" height="3" fill="#888"/><rect x="930.6" y="513.7" width="13.7" height="5.6" fill="#fff" stroke="#333" stroke-width="1"/><rect x="931.6" y="514.8" width="11.7" height="3" fill="#888"/><rect x="949" y="501.9" width="17.9" height="19.2" rx="1.2" fill="#fff" stroke="#1a1a1a" stroke-width="1.8"/><rect x="951.2" y="504.1" width="13.5" height="5.6" fill="#fff" stroke="#333" stroke-width="1"/><rect x="952.2" y="505.2" width="11.5" height="3" fill="#888"/><rect x="951.2" y="513.7" width="13.5" height="5.6" fill="#fff" stroke="#333" stroke-width="1"/><rect x="952.2" y="514.8" width="11.5" height="3" fill="#888"/><circle cx="971.2" cy="510.2" r="1.9" fill="none" stroke="#555" stroke-width="1"/><circle cx="977.4" cy="510.2" r="1.9" fill="none" stroke="#555" stroke-width="1"/><circle cx="971.2" cy="516.6" r="1.9" fill="none" stroke="#555" stroke-width="1"/><circle cx="977.4" cy="516.6" r="1.9" fill="none" stroke="#555" stroke-width="1"/><rect x="983.3" y="507.9" width="11.7" height="8.7" fill="#fff" stroke="#111" stroke-width="1.6"/><circle cx="987.8" cy="512.2" r="2.2" fill="none" stroke="#333" stroke-width="1"/><circle cx="1001.7" cy="512.8" r="2.1" fill="none" stroke="#222" stroke-width="1.3"/><text x="889.2" y="470.9" font-family="Liberation Sans, sans-serif" font-size="13.5" fill="#1a1a1a" text-anchor="middle">I</text><line x1="889" y1="475.1" x2="889" y2="505.2" stroke="#4472c4" stroke-width="2.3"/><text x="840.5" y="556.3" font-family="Liberation Sans, sans-serif" font-size="13.5" fill="#1a1a1a" text-anchor="middle">F</text><line x1="841.8" y1="513.6" x2="841.8" y2="544.6" stroke="#4472c4" stroke-width="2.3"/><text x="857.6" y="556.3" font-family="Liberation Sans, sans-serif" font-size="13.5" fill="#1a1a1a" text-anchor="middle">G</text><line x1="856.9" y1="512.8" x2="856.9" y2="544.6" stroke="#4472c4" stroke-width="2.3"/><text x="871.8" y="556.3" font-family="Liberation Sans, sans-serif" font-size="13.5" fill="#1a1a1a" text-anchor="middle">H</text><line x1="872.3" y1="512.8" x2="872.3" y2="544.6" stroke="#4472c4" stroke-width="2.3"/><text x="892" y="556.3" font-family="Liberation Sans, sans-serif" font-size="13.5" fill="#1a1a1a" text-anchor="middle">J</text><line x1="892" y1="511.1" x2="892" y2="544.6" stroke="#4472c4" stroke-width="2.3"/><text x="916.2" y="556.3" font-family="Liberation Sans, sans-serif" font-size="13.5" fill="#1a1a1a" text-anchor="middle">K</text><line x1="916.1" y1="514.4" x2="916.1" y2="544.6" stroke="#4472c4" stroke-width="2.3"/><text x="937.6" y="556.3" font-family="Liberation Sans, sans-serif" font-size="13.5" fill="#1a1a1a" text-anchor="middle">L</text><line x1="937.8" y1="514.4" x2="937.8" y2="544.6" stroke="#4472c4" stroke-width="2.3"/><text x="956" y="556.3" font-family="Liberation Sans, sans-serif" font-size="13.5" fill="#1a1a1a" text-anchor="middle">M</text><line x1="957" y1="514.4" x2="957" y2="544.6" stroke="#4472c4" stroke-width="2.3"/><text x="973.2" y="556.3" font-family="Liberation Sans, sans-serif" font-size="13.5" fill="#1a1a1a" text-anchor="middle">N</text><line x1="974.1" y1="513.6" x2="974.1" y2="544.6" stroke="#4472c4" stroke-width="2.3"/><text x="986.2" y="556.3" font-family="Liberation Sans, sans-serif" font-size="13.5" fill="#1a1a1a" text-anchor="middle">O</text><line x1="987.5" y1="513.6" x2="987.5" y2="544.6" stroke="#4472c4" stroke-width="2.3"/><text x="1002.5" y="556.3" font-family="Liberation Sans, sans-serif" font-size="13.5" fill="#1a1a1a" text-anchor="middle">P</text><line x1="1001.7" y1="513.6" x2="1001.7" y2="544.6" stroke="#4472c4" stroke-width="2.3"/></g>
<g font-family="Liberation Sans, sans-serif" font-size="20" fill="#1c1c1c" stroke="#1c1c1c" stroke-width="0.25">
<text x="1063" y="228.7">A<tspan dx="0.4">:</tspan></text>
<text x="1091.80" y="228.7" textLength="116.20" lengthAdjust="spacingAndGlyphs">RS232 (DB9)</text>
<text x="1063" y="250.2">B<tspan dx="0.4">:</tspan></text>
<text x="1090.60" y="250.2" textLength="116.40" lengthAdjust="spacingAndGlyphs">RS232 (DB9)</text>
<text x="1063" y="271.8">C<tspan dx="0.4">:</tspan></text>
<text x="1092.80" y="271.8" textLength="171.20" lengthAdjust="spacingAndGlyphs">2×USB2.0 (Type-A)</text>
<text x="1063" y="293.4">D<tspan dx="0.4">:</tspan></text>
<text x="1094.00" y="293.4" textLength="172.00" lengthAdjust="spacingAndGlyphs">2×USB2.0 (Type-A)</text>
<text x="1063" y="314.9">E<tspan dx="0.4">:</tspan></text>
<text x="1090.20" y="314.9" textLength="51.80" lengthAdjust="spacingAndGlyphs">HDMI</text>
<text x="1063" y="336.4">F<tspan dx="0.4">:</tspan></text>
<text x="1090.20" y="336.4" textLength="77.80" lengthAdjust="spacingAndGlyphs">Recovery</text>
<text x="1063" y="358.0">G<tspan dx="0.4">:</tspan></text>
<text x="1094.00" y="358.0" textLength="29.80" lengthAdjust="spacingAndGlyphs">L/R</text>
<text x="1063" y="379.5">H<tspan dx="0.4">:</tspan></text>
<text x="1094.00" y="379.5" textLength="60.80" lengthAdjust="spacingAndGlyphs">MIC IN</text>
<text x="1063" y="401.1">I<tspan dx="0.4">:</tspan></text>
<text x="1085.40" y="401.1" textLength="69.60" lengthAdjust="spacingAndGlyphs">SIM slot</text>
<text x="1063" y="422.6">J<tspan dx="0.4">:</tspan></text>
<text x="1089.50" y="422.6" textLength="53.90" lengthAdjust="spacingAndGlyphs">TF slot</text>
<text x="1063" y="444.2">K<tspan dx="0.4">:</tspan></text>
<text x="1090.60" y="444.2" textLength="103.40" lengthAdjust="spacingAndGlyphs">LAN (RJ45)</text>
<text x="1063" y="465.8">L<tspan dx="0.4">:</tspan></text>
<text x="1089.90" y="465.8" textLength="172.10" lengthAdjust="spacingAndGlyphs">2×USB3.0 (Type-A)</text>
<text x="1063" y="487.3">M<tspan dx="0.4">:</tspan></text>
<text x="1097.50" y="487.3" textLength="172.50" lengthAdjust="spacingAndGlyphs">2×USB2.0 (Type-A)</text>
<text x="1063" y="508.9">N<tspan dx="0.4">:</tspan></text>
<text x="1095.00" y="508.9" textLength="57.00" lengthAdjust="spacingAndGlyphs">4×LED</text>
<text x="1063" y="530.4">O<tspan dx="0.4">:</tspan></text>
<text x="1091.80" y="530.4" textLength="161.70" lengthAdjust="spacingAndGlyphs">12V DC IN (JACK)</text>
<text x="1063" y="552.0">P<tspan dx="0.4">:</tspan></text>
<text x="1090.60" y="552.0" textLength="47.40" lengthAdjust="spacingAndGlyphs">Reset</text>
<text x="1311" y="228.7">Q<tspan dx="0.4">:</tspan></text>
<text x="1343.50" y="228.7" textLength="31.50" lengthAdjust="spacingAndGlyphs">SPK</text>
<text x="1311" y="250.2">R<tspan dx="0.4">:</tspan></text>
<text x="1340.50" y="250.2" textLength="101.50" lengthAdjust="spacingAndGlyphs">WiFi/BT天线</text>
<text x="1311" y="271.8">S<tspan dx="0.4">:</tspan></text>
<text x="1338.10" y="271.8" textLength="60.70" lengthAdjust="spacingAndGlyphs">4G天线</text>
<text x="1311" y="293.4">T<tspan dx="0.4">:</tspan></text>
<text x="1339.40" y="293.4" textLength="69.40" lengthAdjust="spacingAndGlyphs">GPS天线</text>
<text x="1311" y="314.9">U<tspan dx="0.4">:</tspan></text>
<text x="1340.70" y="314.9" textLength="156.50" lengthAdjust="spacingAndGlyphs">TTL (PH2.0-4PIN)</text>
<text x="1311" y="336.4">V<tspan dx="0.4">:</tspan></text>
<text x="1339.50" y="336.4" textLength="168.60" lengthAdjust="spacingAndGlyphs">PWR (PH2.0-2PIN)</text>
<text x="1311" y="358.0">W<tspan dx="0.4">:</tspan></text>
<text x="1346.60" y="358.0" textLength="192.30" lengthAdjust="spacingAndGlyphs">RS485 (3PIN凤凰端子)</text>
<text x="1311" y="379.5">X<tspan dx="0.4">:</tspan></text>
<text x="1339.50" y="379.5" textLength="189.10" lengthAdjust="spacingAndGlyphs">GPIO*4 (PH2.0-6PIN)</text>
<text x="1311" y="401.1">Y<tspan dx="0.4">:</tspan></text>
<text x="1339.50" y="401.1" textLength="178.90" lengthAdjust="spacingAndGlyphs">RS232 (PH2.0-4PIN)</text>
<text x="1311" y="422.6">Z<tspan dx="0.4">:</tspan></text>
<text x="1339.50" y="422.6" textLength="178.90" lengthAdjust="spacingAndGlyphs">RS232 (PH2.0-4PIN)</text>
<text x="1311" y="444.2">a<tspan dx="0.4">:</tspan></text>
<text x="1337.10" y="444.2" textLength="181.10" lengthAdjust="spacingAndGlyphs">RS485 (PH2.0-3PIN)</text>
</g>
</svg>
</body></html>
